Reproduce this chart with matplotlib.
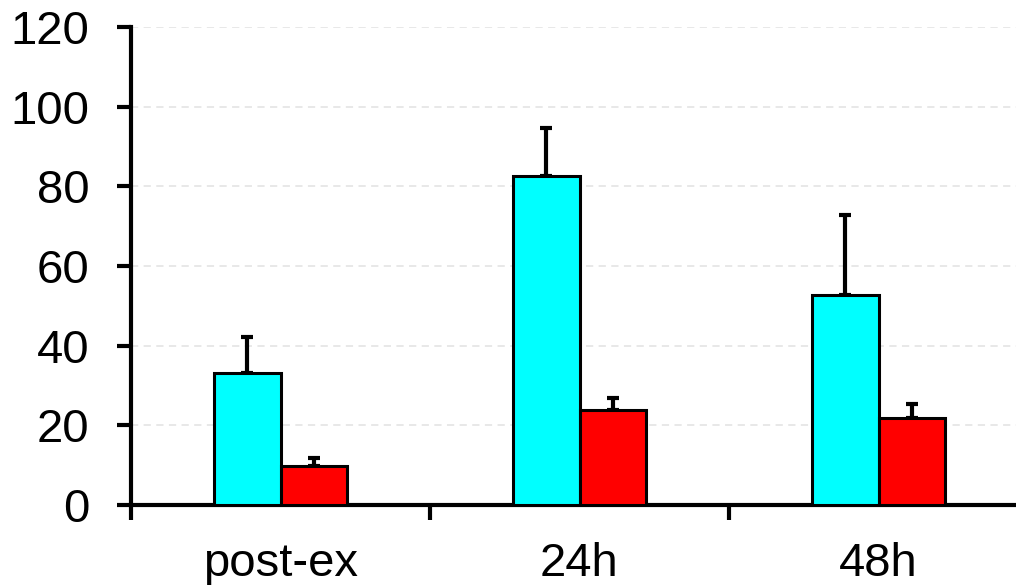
import numpy as np
import matplotlib.pyplot as plt

plt.rcParams['font.family'] = ['Liberation Sans', 'DejaVu Sans']

################################ data
categories = ['post-ex', '24h', '48h']
cyan_vals = [33.1, 82.6, 52.7]
cyan_err = [9.1, 12.0, 20.1]
red_vals = [9.8, 23.8, 21.8]
red_err = [2.0, 3.0, 3.5]
yticks = [0, 20, 40, 60, 80, 100, 120]

################################ plot
fig = plt.figure(figsize=(10.16, 5.85), dpi=100)
ax = fig.add_axes([131 / 1016, 80 / 585, 897 / 1016, 478 / 585])

x = np.arange(len(categories))
w = 0.222

ax.bar(x - w / 2, cyan_vals, w, color='#00ffff', edgecolor='black', linewidth=2.2, zorder=3)
ax.bar(x + w / 2, red_vals, w, color='#ff0000', edgecolor='black', linewidth=2.2, zorder=3)
ax.errorbar(x - w / 2, cyan_vals, yerr=[np.zeros(3), cyan_err], fmt='none',
            ecolor='black', elinewidth=3, capsize=4.5, capthick=3, zorder=2)
ax.errorbar(x + w / 2, red_vals, yerr=[np.zeros(3), red_err], fmt='none',
            ecolor='black', elinewidth=3, capsize=4.5, capthick=3, zorder=2)

ax.set_xlim(-0.5, 2.5)
ax.set_ylim(0, 120)
ax.set_yticks(yticks)
ax.tick_params(axis='y', direction='out', length=10, width=3, labelsize=34, pad=20)
ax.yaxis.grid(True, linestyle=(0, (4, 3)), color='#e6e6e6', linewidth=1.3, zorder=0)

ax.set_xticks([-0.5, 0.5, 1.5, 2.5])
ax.set_xticklabels([])
ax.set_xticks(x, minor=True)
ax.set_xticklabels(categories, minor=True)
ax.tick_params(axis='x', which='major', direction='out', length=11, width=3)
ax.tick_params(axis='x', which='minor', length=0, labelsize=34, pad=27)

for s in ['top', 'right']:
    ax.spines[s].set_visible(False)
for s in ['left', 'bottom']:
    ax.spines[s].set_linewidth(3)

fig.savefig('out.png', dpi=100)
